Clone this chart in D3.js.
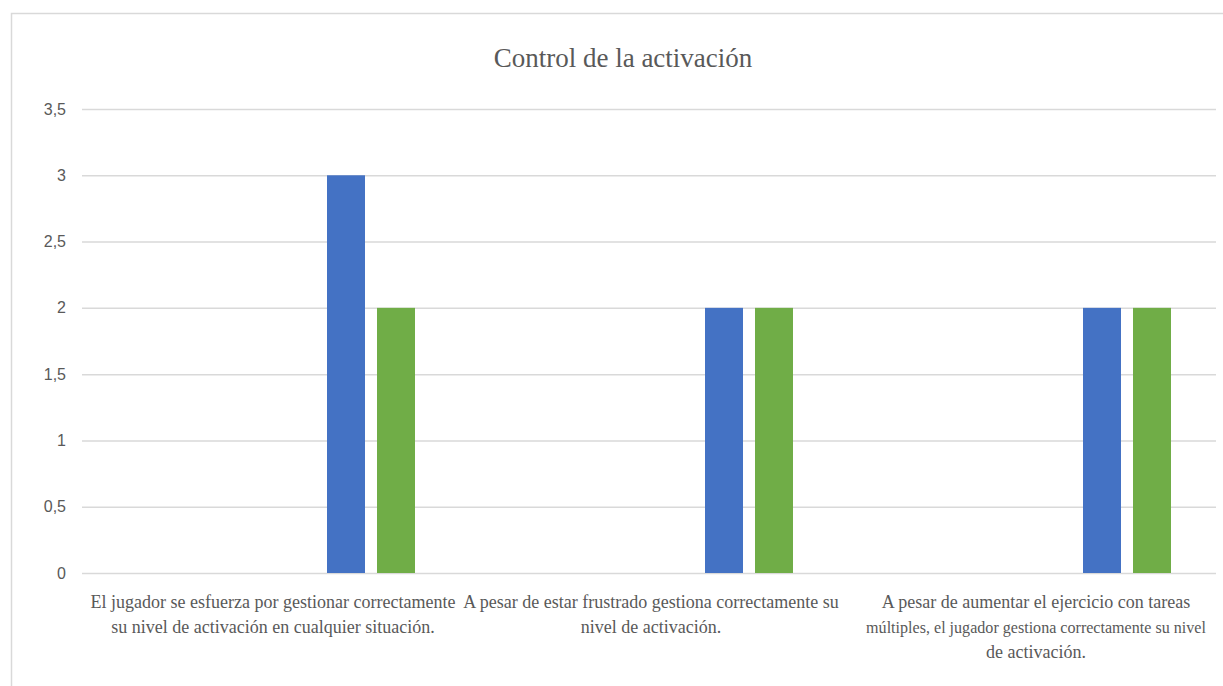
<!DOCTYPE html>
<html>
<head>
<meta charset="utf-8">
<script src="https://cdn.jsdelivr.net/npm/d3@7"></script>
<style>
  body { margin: 0; background: #fff; }
</style>
</head>
<body>
<script>
// data
const categories = [
    "El jugador se esfuerza por gestionar correctamente su nivel de activación en cualquier situación.",
    "A pesar de estar frustrado gestiona correctamente su nivel de activación.",
    "A pesar de aumentar el ejercicio con tareas múltiples, el jugador gestiona correctamente su nivel de activación."
];
const categoryLines = [
    ["El jugador se esfuerza por gestionar correctamente", "su nivel de activación en cualquier situación."],
    ["A pesar de estar frustrado gestiona correctamente su", "nivel de activación."],
    ["A pesar de aumentar el ejercicio con tareas", "múltiples, el jugador gestiona correctamente su nivel", "de activación."]
];
const seriesNames = ["Serie 1", "Serie 2", "Serie 3", "Serie 4", "Serie 5", "Serie 6"];
const serie1 = [0, 0, 0];
const serie2 = [0, 0, 0];
const serie3 = [0, 0, 0];
const serie4 = [0, 0, 0];
const serie5 = [3, 2, 2];
const serie6 = [2, 2, 2];
const seriesColors = ["#4472C4", "#ED7D31", "#A5A5A5", "#FFC000", "#4472C4", "#70AD47"];
const tickValues = [0, 0.5, 1, 1.5, 2, 2.5, 3, 3.5];
const tickLabels = ["0", "0,5", "1", "1,5", "2", "2,5", "3", "3,5"];

const allSeries = [serie1, serie2, serie3, serie4, serie5, serie6];

const width = 1223;
const height = 686;
const margin = {top: 109, right: 7, bottom: 113, left: 82};

var svg = d3.select("body").append("svg")
    .attr("width", width)
    .attr("height", height);

// chart border
svg.append("rect")
    .attr("x", 11.5)
    .attr("y", 13.5)
    .attr("width", 1240)
    .attr("height", 700)
    .attr("fill", "none")
    .attr("stroke", "#d9d9d9")
    .attr("stroke-width", 1.5);

svg.append("text")
    .attr("x", 623)
    .attr("y", 67)
    .attr("text-anchor", "middle")
    .attr("font-family", "'Liberation Serif', 'Times New Roman', serif")
    .attr("font-size", 27)
    .attr("fill", "#595959")
    .text("Control de la activación");

var xscale = d3.scaleBand()
    .domain(categories)
    .range([margin.left, width - margin.right]);

var x1 = d3.scaleBand()
    .domain(seriesNames)
    .range([0, xscale.bandwidth()])
    .paddingInner(0.24)
    .paddingOuter(0.9);

var yscale = d3.scaleLinear()
    .domain([0, 3.5])
    .range([height - margin.bottom, margin.top]);

// y axis with gridlines
var yaxis = svg.append("g")
    .attr("class", "y_axis")
    .attr("transform", "translate(" + [margin.left, 0].join(",") + ")")
    .call(d3.axisLeft(yscale)
        .tickValues(tickValues)
        .tickFormat((d, i) => tickLabels[i])
        .tickSize(-(width - margin.left - margin.right))
        .tickPadding(16));

yaxis.select(".domain").remove();
yaxis.selectAll("line")
    .attr("stroke", "#d9d9d9")
    .attr("stroke-width", 1.5);
yaxis.selectAll("text")
    .attr("font-family", "'Liberation Sans', Arial, sans-serif")
    .attr("font-size", 16)
    .attr("fill", "#595959");

// bars
var groups = svg.selectAll(".grp")
    .data(categories)
    .enter()
    .append("g")
    .attr("class", "grp")
    .attr("transform", d => "translate(" + xscale(d) + ",0)");

groups.selectAll("rect")
    .data((d, ci) => seriesNames.map((s, si) => ({s: s, si: si, v: allSeries[si][ci]})))
    .enter()
    .append("rect")
    .attr("x", d => x1(d.s))
    .attr("y", d => yscale(d.v))
    .attr("width", x1.bandwidth())
    .attr("height", d => yscale(0) - yscale(d.v))
    .attr("fill", d => seriesColors[d.si]);

// category labels
const maxLine = 340;
svg.selectAll(".cat")
    .data(categories)
    .enter()
    .append("text")
    .attr("class", "cat")
    .attr("text-anchor", "middle")
    .attr("font-family", "'Liberation Serif', 'Times New Roman', serif")
    .attr("font-size", 18)
    .attr("fill", "#595959")
    .each(function(d, i) {
        var t = d3.select(this);
        categoryLines[i].forEach((line, j) => {
            var ts = t.append("tspan")
                .attr("x", xscale(d) + xscale.bandwidth() / 2 + (i == 2 ? 9 : 2))
                .attr("y", 608 + j * 25)
                .text(line);
            // shrink the long line of the last label so it stays inside
            var len = ts.node().getComputedTextLength();
            if (i == 2 && len > maxLine) {
                ts.attr("font-size", 18 * maxLine / len);
            }
        });
    });
</script>
</body>
</html>
